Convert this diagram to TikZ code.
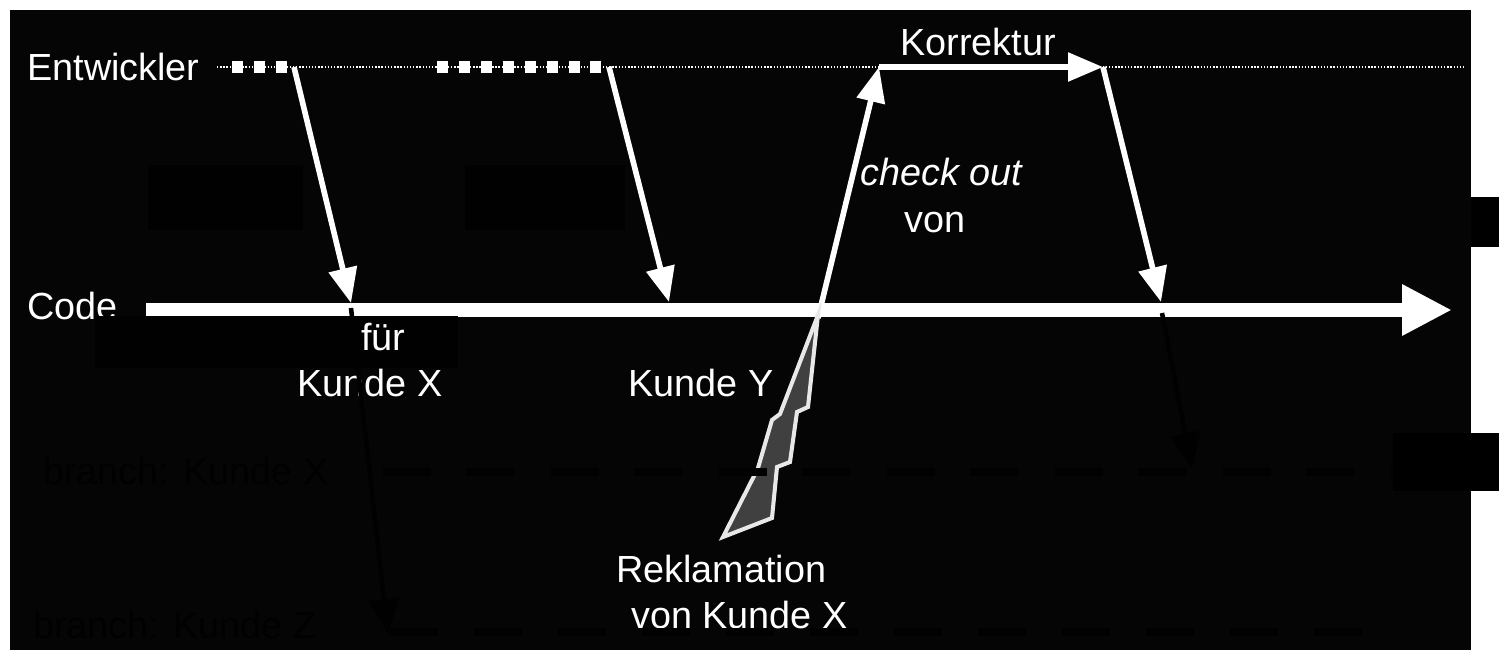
\documentclass[tikz,border=0pt]{standalone}
\usepackage{fontspec}
\setmainfont{Liberation Sans}
\usetikzlibrary{arrows.meta}

\definecolor{slide}{RGB}{5,5,5}
\definecolor{coverc}{RGB}{1,1,1}
\definecolor{boltfill}{RGB}{64,64,64}
\definecolor{boltline}{RGB}{232,232,232}

\begin{document}
\begin{tikzpicture}[x=0.02cm, y=-0.02cm,
      every node/.style={inner sep=0pt, anchor=base west, text=white, font=\fontsize{21.5}{25}\selectfont},
      flow/.style={draw=white, line width=3.2pt, -{Triangle[length=0.7cm, width=0.56cm]}},
      codeline/.style={draw=white, line width=8pt, -{Triangle[length=1cm, width=0.96cm]}},
      hidden/.style={draw=coverc, line width=2.6pt, -{Triangle[length=0.7cm, width=0.6cm]}},
      hiddendash/.style={draw=coverc, line width=4.5pt, dash pattern=on 0.96cm off 0.72cm},
      dots/.style={draw=white, line width=6.4pt, dash pattern=on 6.24pt off 6.24pt},
      thin/.style={draw=white, line width=0.8pt, dash pattern=on 0.8pt off 1pt}
    ]

    \useasboundingbox (0,0) rectangle (1499,650);
    \fill[white] (0,0) rectangle (1499,650);
    \fill[slide] (10,10) rectangle (1471,650);
    \fill[black] (1471,197) rectangle (1499,247);
    \fill[black] (1393,433) rectangle (1499,491);
    \fill[coverc] (148,165) rectangle (303,230);
    \fill[coverc] (465,165) rectangle (625,230);

    \coordinate (E0) at (217,67);
    \coordinate (S1) at (232,67);
    \coordinate (E1) at (294,67);
    \coordinate (S2) at (437,67);
    \coordinate (E2) at (609,67);
    \coordinate (E3) at (879,67);
    \coordinate (E4) at (1103,67);
    \coordinate (E9) at (1465,67);

    \coordinate (C0) at (146,310);
    \coordinate (C1) at (351,303);
    \coordinate (C2) at (669,302);
    \coordinate (C3) at (818,318);
    \coordinate (C4) at (1161,302);
    \coordinate (C9) at (1452,310);

    \coordinate (B1) at (351,308);
    \coordinate (B2) at (388,634);
    \coordinate (B3) at (1162,313);
    \coordinate (B4) at (1192,468);
    \coordinate (B5) at (383,472);
    \coordinate (B6) at (1392,472);
    \coordinate (B7) at (390,632);
    \coordinate (B8) at (1370,632);

    \node[text=coverc] (L11) at (43,484) {branch: Kunde X};
    \node[text=coverc] (L12) at (33,638) {branch: Kunde Z};

    \draw[thin] (E0) -- (E9);
    \draw[dots] (S1) -- (E1);
    \draw[dots] (S2) -- (E2);

    \node (L1) at (27,80) {Entwickler};
    \node (L2) at (27,319) {Code};
    \node (L8) at (900,55) {Korrektur};
    \node (L6) at (860,185) {\itshape check out};
    \node (L7) at (904,232) {von};

    \draw[flow] (E1) -- (C1);
    \draw[flow] (E2) -- (C2);
    \draw[flow] (C3) -- (E3);
    \draw[flow] (E3) -- (E4);
    \draw[flow] (E4) -- (C4);
    \draw[codeline] (C0) -- (C9);

    \fill[coverc] (95,316) rectangle (458,368);

    \node (L3) at (361,350) {für};
    \node (L4) at (297,396) {Kunde X};
    \node (L5) at (628,396) {Kunde Y};
    \node (L9) at (616,582) {Reklamation};
    \node (L10) at (631,628) {von Kunde X};

    \draw[boltline, fill=boltfill, line width=2.3pt, line join=miter]
      (818,315) -- (780,414) -- (772,420) -- (758,468) -- (752,480) -- (723,537)
      -- (772,518) -- (777,467) -- (790,462) -- (797,412) -- (808,407) -- cycle;

    \draw[hidden] (B1) -- (B2);
    \draw[hidden] (B3) -- (B4);
    \draw[hiddendash] (B5) -- (B6);
    \draw[hiddendash] (B7) -- (B8);

    \end{tikzpicture}
\end{document}
